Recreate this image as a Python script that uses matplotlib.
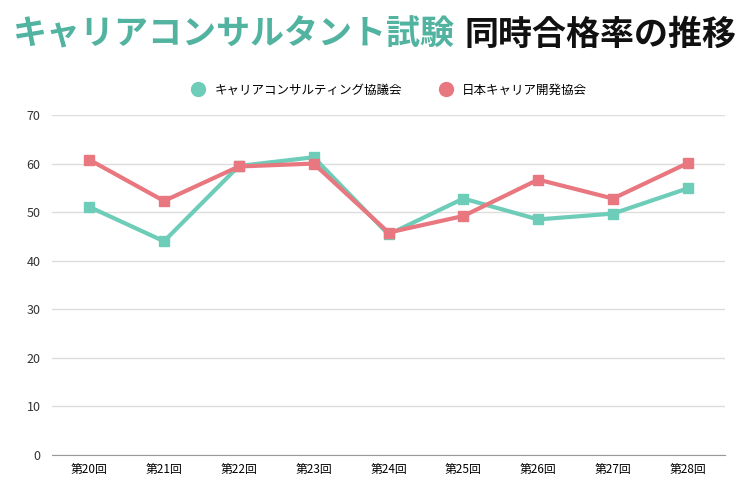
import matplotlib.pyplot as plt
import numpy as np

plt.rcParams['font.family'] = ['Noto Sans CJK JP', 'DejaVu Sans']

rounds = ['第20回', '第21回', '第22回', '第23回', '第24回', '第25回', '第26回', '第27回', '第28回']
kyogikai = [51.1, 44.0, 59.5, 61.3, 45.4, 52.8, 48.5, 49.7, 54.9]
jcda = [60.8, 52.3, 59.4, 60.0, 45.8, 49.2, 56.7, 52.8, 60.1]

teal = '#6dcdb8'
red = '#e8777f'

fig = plt.figure(figsize=(7.5, 5), dpi=100)
ax = fig.add_axes([0.069, 0.09, 0.898, 0.68])

x = np.arange(len(rounds))
ax.plot(x, kyogikai, color=teal, lw=3, marker='s', ms=7, label='キャリアコンサルティング協議会')
ax.plot(x, jcda, color=red, lw=3, marker='s', ms=7, label='日本キャリア開発協会')

ax.set_xlim(-0.5, len(rounds) - 0.5)
ax.set_ylim(0, 70)
ax.set_yticks(range(0, 71, 10))
ax.set_xticks(x)
ax.set_xticklabels(rounds, fontsize=8.5)
ax.tick_params(axis='y', labelsize=9, length=0, pad=8, colors='#333333')
ax.tick_params(axis='x', length=0, pad=6)
ax.grid(axis='y', color='#dddddd', lw=1)
ax.set_axisbelow(True)
for s in ['top', 'right', 'left']:
    ax.spines[s].set_visible(False)
ax.spines['bottom'].set_color('#999999')

# legend with round markers
h1 = plt.Line2D([], [], color=teal, marker='o', ls='', ms=10)
h2 = plt.Line2D([], [], color=red, marker='o', ls='', ms=10)
fig.legend([h1, h2], ['キャリアコンサルティング協議会', '日本キャリア開発協会'],
           loc='center', bbox_to_anchor=(0.515, 0.82), ncol=2, frameon=False,
           fontsize=9, handletextpad=0.3, columnspacing=2.5)

# two-colour title
fig.canvas.draw()
r = fig.canvas.get_renderer()
t1 = fig.text(0.0, 0.932, 'キャリアコンサルタント試験', fontsize=24.5, fontweight='bold',
              color='#52b3a0', va='center')
t2 = fig.text(0.0, 0.932, '同時合格率の推移', fontsize=24.5, fontweight='bold',
              color='#111111', va='center')
w1 = t1.get_window_extent(r).width / fig.bbox.width
w2 = t2.get_window_extent(r).width / fig.bbox.width
gap = 0.013
start = 0.5 - (w1 + gap + w2) / 2
t1.set_x(start)
t2.set_x(start + w1 + gap)

fig.savefig('out.png', dpi=100)
